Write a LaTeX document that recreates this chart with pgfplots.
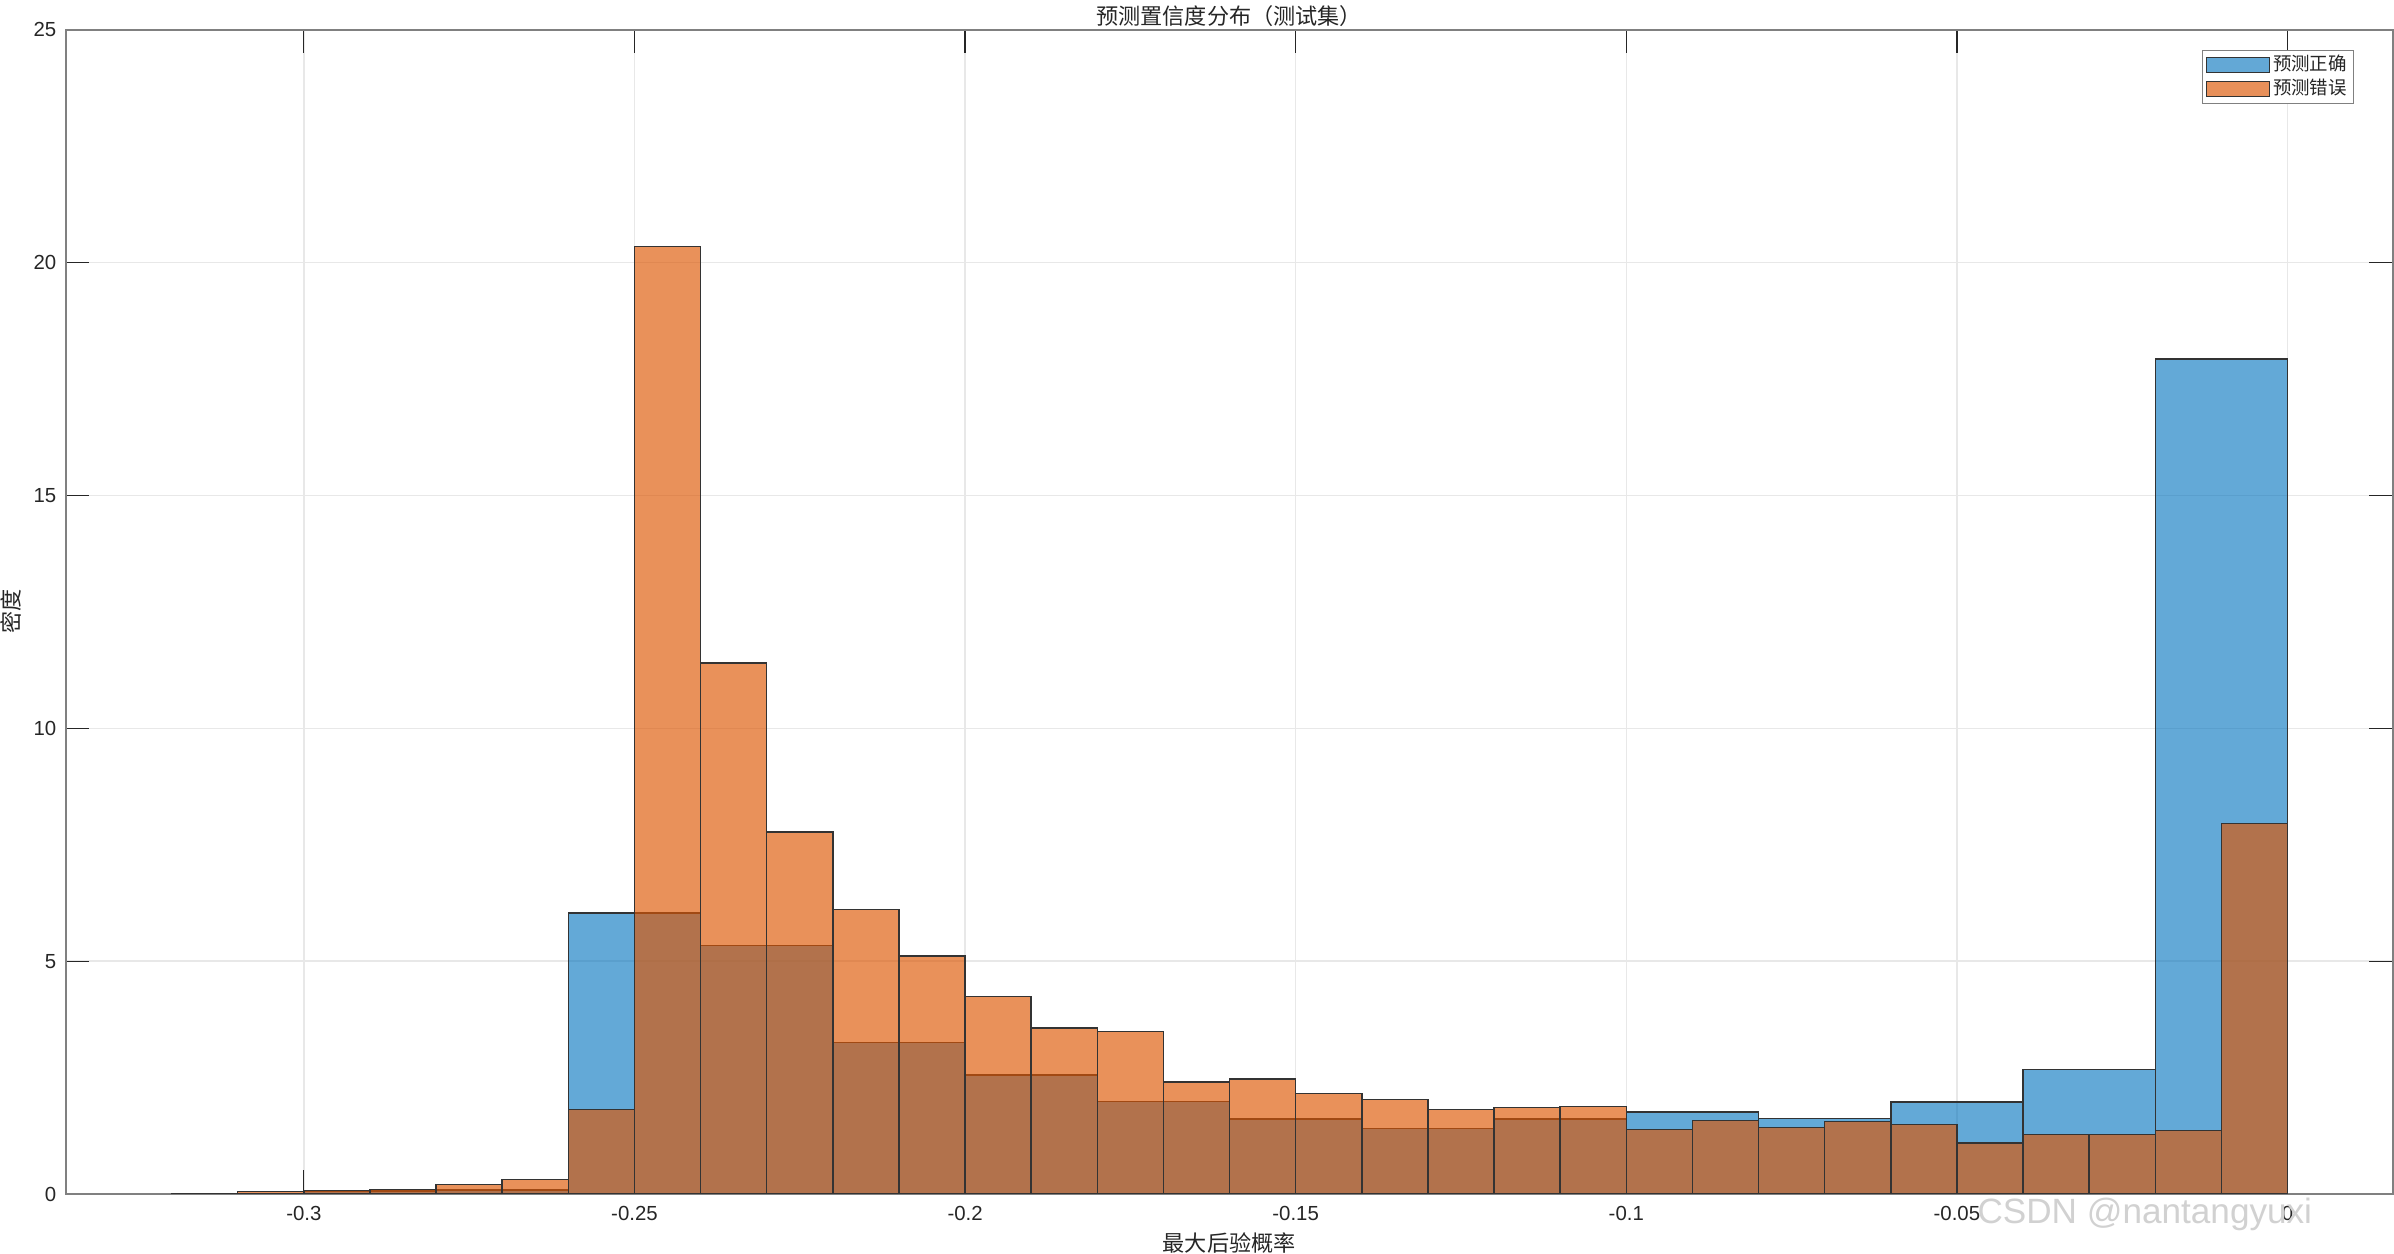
\documentclass[border=0pt]{standalone}
\usepackage{fontspec}
\setmainfont{Liberation Sans}
\newfontfamily\cjk{Noto Sans CJK SC}
\usepackage{pgfplots}
\pgfplotsset{compat=1.18}
\definecolor{mblue}{rgb}{0,0.447,0.741}
\definecolor{morange}{RGB}{221,86,2}
\definecolor{tickc}{rgb}{0.15,0.15,0.15}
\pgfplotsset{histlegend/.style={legend image code/.code={\draw[##1, line width=0.1mm] (0mm,-0.75mm) rectangle (6.3mm,0.75mm);}}}
\begin{document}
\begin{tikzpicture}
\begin{axis}[
  at={(0,0)}, anchor=south west,
  scale only axis, width=232.68mm, height=116.43mm,
  xmin=-0.336, xmax=0.0159, ymin=0, ymax=25,
  xtick={-0.3,-0.25,-0.2,-0.15,-0.1,-0.05,0},
  xticklabels={-0.3,-0.25,-0.2,-0.15,-0.1,-0.05,0},
  ytick={0,5,10,15,20,25},
  yticklabels={0,5,10,15,20,25},
  tick pos=both, tick align=inside, major tick length=2.35mm,
  tick style={tickc, line width=0.12mm},
  axis line style={black!50, line width=0.2mm},
  grid=major, major grid style={black!9, line width=0.15mm},
  ticklabel style={font=\fontsize{5.8}{7}\selectfont, text=tickc},
  xticklabel style={anchor=base, yshift=-2.67mm, inner sep=0pt},
  yticklabel style={anchor=east, inner sep=0pt, xshift=-0.88mm},
  every axis title shift=0pt,
  title={\cjk 预测置信度分布（测试集）},
  title style={at={(0.5,1)}, anchor=base, yshift=0.55mm, font=\fontsize{6.3}{7}\selectfont, text=tickc, inner sep=0pt},
  xlabel={\cjk 最大后验概率},
  xlabel style={at={(0.5,0)}, anchor=base, yshift=-5.74mm, font=\fontsize{6.3}{7}\selectfont, text=tickc, inner sep=0pt},
  ylabel={\cjk 密度},
  ylabel style={at={(0,0.5)}, anchor=base, yshift=4.64mm, font=\fontsize{6.3}{7}\selectfont, text=tickc, inner sep=0pt},
  legend style={at={(0.9833,0.9826)}, anchor=north east, draw=black!50, line width=0.1mm, fill=white,
    inner xsep=0.4mm, inner ysep=0.25mm, row sep=0pt,
    font=\cjk\fontsize{5.25}{6}\selectfont, text=tickc,
    nodes={inner xsep=0.25mm, inner ysep=0.17mm}},
  legend cell align=left,
]
\addplot[ybar interval, fill=mblue, fill opacity=0.61, draw=black!80, line width=0.15mm, histlegend]
coordinates {
(-0.32,0.012) (-0.30,0.068) (-0.28,0.086) (-0.26,6.03) (-0.24,5.34) (-0.22,3.25)
(-0.20,2.56) (-0.18,1.99) (-0.16,1.61) (-0.14,1.41) (-0.12,1.61) (-0.10,1.76)
(-0.08,1.62) (-0.06,1.98) (-0.04,2.67) (-0.02,17.93) (0,17.93)
};
\addlegendentry{预测正确}
\addplot[ybar interval, fill=morange, fill opacity=0.65, draw=black!80, line width=0.15mm, histlegend]
coordinates {
(-0.32,0.012) (-0.31,0.057) (-0.30,0.079) (-0.29,0.10) (-0.28,0.208) (-0.27,0.316)
(-0.26,1.81) (-0.25,20.34) (-0.24,11.40) (-0.23,7.77) (-0.22,6.11) (-0.21,5.11)
(-0.20,4.24) (-0.19,3.56) (-0.18,3.49) (-0.17,2.40) (-0.16,2.47) (-0.15,2.16)
(-0.14,2.03) (-0.13,1.81) (-0.12,1.86) (-0.11,1.88) (-0.10,1.38) (-0.09,1.58)
(-0.08,1.43) (-0.07,1.56) (-0.06,1.49) (-0.05,1.09) (-0.04,1.28) (-0.03,1.28)
(-0.02,1.36) (-0.01,7.96) (0,7.96)
};
\addlegendentry{预测错误}
\end{axis}
\node[text=black!18, font=\fontsize{10}{12}\selectfont, anchor=center] at (207.9mm,-2.0mm) {CSDN @nantangyuxi};
\pgfresetboundingbox
\path[use as bounding box] (-6.58mm,-6.0mm) rectangle (232.82mm,119.4mm);
\end{tikzpicture}
\end{document}
